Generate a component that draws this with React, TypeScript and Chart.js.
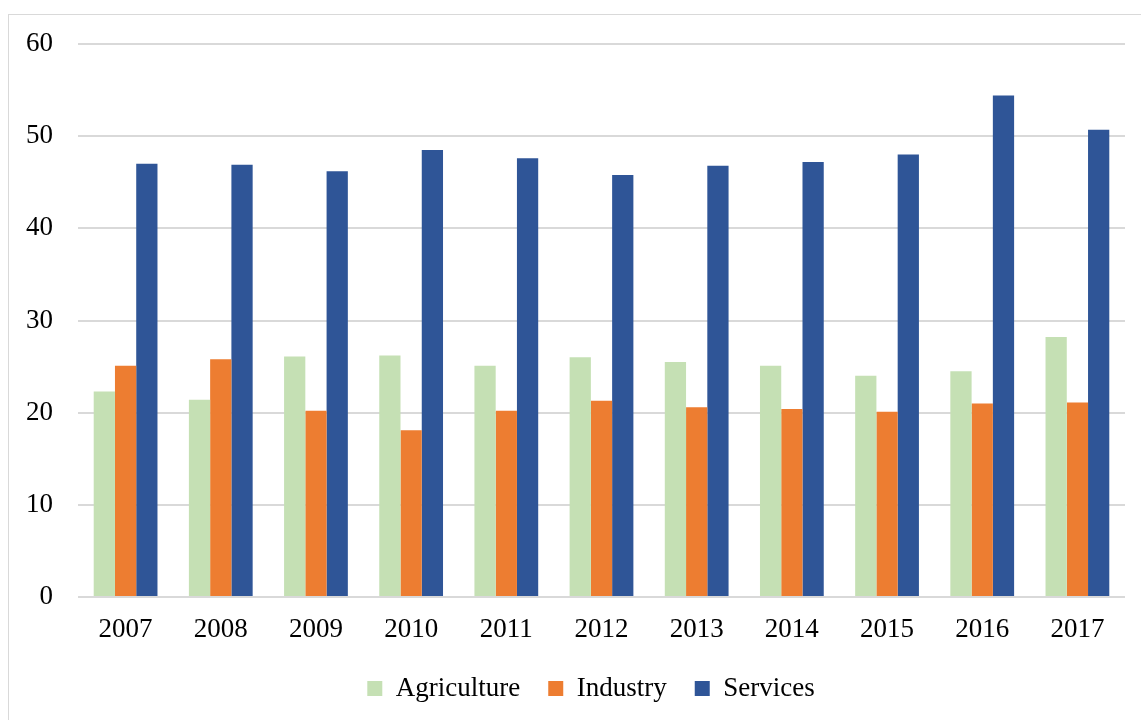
import React, { useEffect, useRef } from "react";
import { Chart, registerables } from "chart.js";

Chart.register(...registerables);

const years = ["2007", "2008", "2009", "2010", "2011", "2012", "2013", "2014", "2015", "2016", "2017"];
const agriculture = [22.3, 21.4, 26.1, 26.2, 25.1, 26.0, 25.5, 25.1, 24.0, 24.5, 28.2];
const industry = [25.1, 25.8, 20.2, 18.1, 20.2, 21.3, 20.6, 20.4, 20.1, 21.0, 21.1];
const services = [47.0, 46.9, 46.2, 48.5, 47.6, 45.8, 46.8, 47.2, 48.0, 54.4, 50.7];
const yTicks = [0, 10, 20, 30, 40, 50, 60];

const FONT = "'Liberation Serif', 'DejaVu Serif', serif";
const FS = 27;

const legendShift = {
  id: "legendShift",
  afterLayout(chart: any) {
    const lg = chart.legend;
    if (lg) {
      lg.left += 24;
      lg.right += 24;
    }
  },
};

export default function App() {
  const ref = useRef<HTMLCanvasElement | null>(null);
  useEffect(() => {
    if (!ref.current) return;
    const chart = new Chart(ref.current, {
      type: "bar",
      data: {
        labels: years,
        datasets: [
          { label: "Agriculture", data: agriculture, backgroundColor: "#c5e0b4", borderWidth: 0 },
          { label: "Industry", data: industry, backgroundColor: "#ed7d31", borderWidth: 0 },
          { label: "Services", data: services, backgroundColor: "#2f5597", borderWidth: 0 },
        ],
      },
      plugins: [legendShift],
      options: {
        animation: false,
        responsive: false,
        maintainAspectRatio: false,
        layout: { padding: { top: 29, right: 16, left: 0, bottom: 8 } },
        datasets: { bar: { categoryPercentage: 0.67, barPercentage: 1 } },
        plugins: {
          tooltip: { enabled: false },
          legend: {
            position: "bottom",
            labels: {
              font: { family: FONT, size: FS },
              color: "#000",
              boxWidth: 15,
              boxHeight: 15,
              padding: 28,
            },
          },
        },
        scales: {
          x: {
            grid: { display: false, drawTicks: false },
            border: { display: false },
            ticks: { font: { family: FONT, size: FS }, color: "#000", padding: 17, maxRotation: 0 },
            afterFit: (s: any) => {
              s.paddingLeft = 0;
              s.paddingRight = 0;
              s.height = 50;
            },
          },
          y: {
            min: 0,
            max: 60,
            afterBuildTicks: (s: any) => {
              s.ticks = yTicks.map((v) => ({ value: v }));
            },
            afterFit: (s: any) => {
              s.width = 69;
              s.paddingTop = 0;
              s.paddingBottom = 0;
            },
            grid: { color: "#d9d9d9", lineWidth: 2, drawTicks: false },
            border: { display: false },
            ticks: { font: { family: FONT, size: FS }, color: "#000", padding: 25 },
          },
        },
      },
    });
    return () => chart.destroy();
  }, []);
  return (
    <div
      style={{
        position: "absolute",
        left: 8,
        top: 14,
        width: 1133,
        height: 706,
        borderLeft: "1px solid #d9d9d9",
        borderTop: "1px solid #d9d9d9",
        background: "#fff",
      }}
    >
      <canvas ref={ref} width={1132} height={705} style={{ display: "block" }} />
    </div>
  );
}
